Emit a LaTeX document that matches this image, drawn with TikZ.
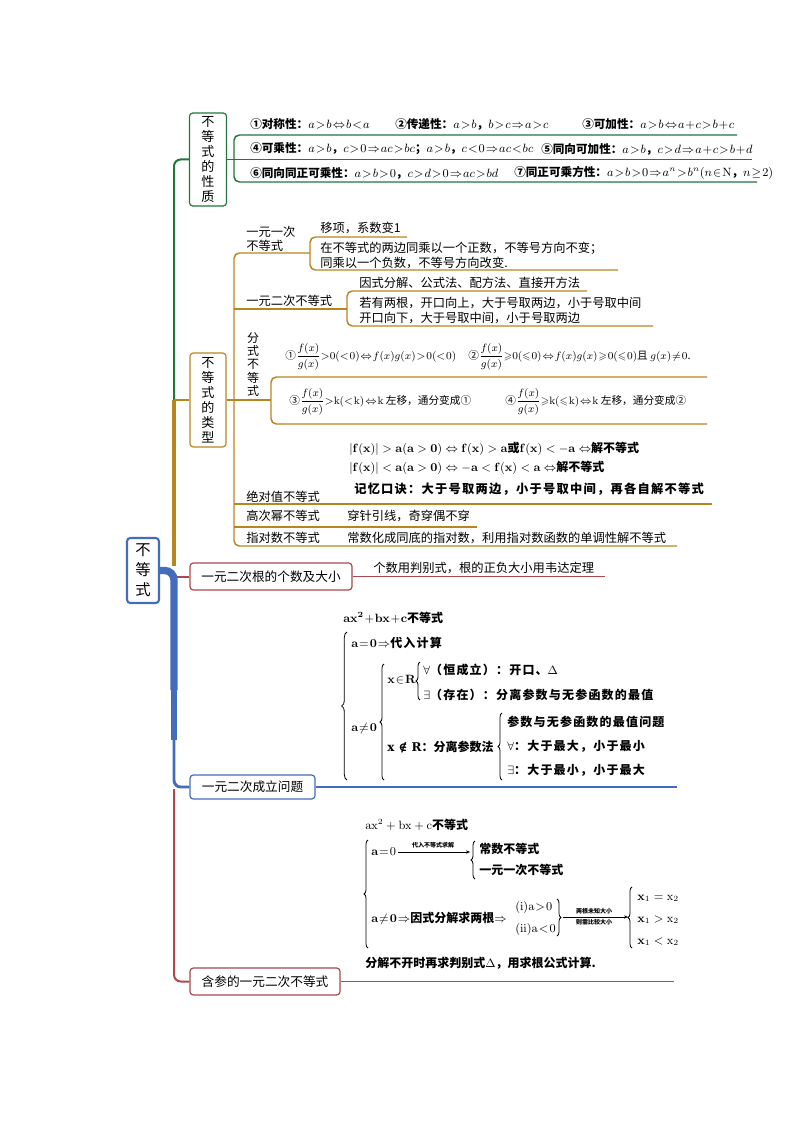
\documentclass[tikz,border=0pt]{standalone}
\usepackage{amsmath,amssymb}
\usepackage[no-math]{fontspec}
\setmainfont{Noto Sans CJK SC}
\newfontfamily\kai[LetterSpace=10]{Noto Sans CJK SC}
\newfontfamily\dvserif{DejaVu Serif}
\usetikzlibrary{arrows.meta,decorations.pathreplacing}
\definecolor{cgreen}{RGB}{30,120,60}
\definecolor{cgold}{RGB}{184,134,30}
\definecolor{cred}{RGB}{172,72,78}
\definecolor{cblue}{RGB}{68,108,188}
\newcommand\tightm{\thickmuskip=1.5mu\medmuskip=1mu}
\begin{document}
\begin{tikzpicture}[x=0.75pt,y=-0.75pt,
 box/.style={draw, rounded corners=2.5pt, fill=white, line width=0.9pt, inner sep=0pt, align=center, text=black},
 tc/.style={inner sep=0pt, anchor=west, font=\fontsize{9.2}{11}\selectfont},
 gt/.style={inner sep=0pt, anchor=west, font=\fontsize{8.7}{11}\selectfont\bfseries\tightm},
 ft/.style={inner sep=0pt, anchor=west, font=\fontsize{8}{10}\selectfont\tightm},
 kt/.style={inner sep=0pt, anchor=west, font=\fontsize{9}{11}\selectfont\kai\bfseries\tightm},
 kn/.style={inner sep=0pt, anchor=west, font=\fontsize{9}{11}\selectfont\bfseries\tightm},
 kw/.style={inner sep=0pt, anchor=west, font=\fontsize{9}{11}\selectfont\bfseries},
 tinyl/.style={inner sep=0pt, font=\fontsize{4.5}{5}\selectfont\bfseries},
 br/.style={decorate, decoration={brace, amplitude=3pt}, line width=0.6pt},
 gl/.style={cgreen, line width=1.1pt, rounded corners=4pt},
 yl/.style={cgold, line width=1.1pt, rounded corners=4pt},
]
\useasboundingbox (0,0) rectangle (794,1123);
\fill[white] (0,0) rectangle (794,1123);

% ---------- main boxes ----------
\node[box, draw=cblue, line width=1.6pt, minimum width=24pt, minimum height=48.75pt, font=\fontsize{11.5}{15}\selectfont] (root) at (143,570.5) {不\\等\\式};
\node[box, draw=cgreen, minimum width=27.75pt, minimum height=69.75pt, font=\fontsize{9.8}{11.3}\selectfont] (b1) at (208,159.5) {不\\等\\式\\的\\性\\质};
\node[box, draw=cgold, minimum width=27pt, minimum height=70.5pt, font=\fontsize{9.8}{11.3}\selectfont] (b2) at (208,400) {不\\等\\式\\的\\类\\型};
\node[box, draw=cred, minimum width=121.5pt, minimum height=20.25pt, font=\fontsize{9.5}{11}\selectfont] (b3) at (271,576.5) {一元二次根的个数及大小};
\node[box, draw=cblue, minimum width=93.75pt, minimum height=18pt, font=\fontsize{9.5}{11}\selectfont] (b4) at (252.5,787) {一元二次成立问题};
\node[box, draw=cred, minimum width=112.5pt, minimum height=20.25pt, font=\fontsize{9.5}{11}\selectfont] (b5) at (265,981.5) {含参的一元二次不等式};

% ---------- trunk ----------
\draw[cgreen, line width=1.5pt, rounded corners=5pt] (174,410) |- (b1.west);
\draw[cgold, line width=3.2pt] (174,566) -- (174,400);
\draw[cgold, line width=1.2pt] (174,400) -- (b2.west);
\draw[cblue, line width=5.5pt, rounded corners=7pt] (root.east) -| (174,690);
\draw[cblue, line width=4pt] (174,680) -- (174,740);
\draw[cblue, line width=2.2pt, rounded corners=5pt] (174,735) |- (b4.west);
\draw[cred, line width=1.5pt] (177,576.5) -- (b3.west);
\draw[cred, line width=1.5pt, rounded corners=5pt] (174,789) |- (b5.west);

% ---------- green: properties ----------
\coordinate (g0) at (234,159.5);
\draw[gl] (b1.east) -- (g0) -- (752,159.5);
\draw[gl] (737,135) -- (234,135) -- (234,182) -- (757,182);
\node[gt] (p1) at (250,124) {①对称性：$a>b\Leftrightarrow b<a$};
\node[gt] (p2) at (395,124) {②传递性：$a>b$，$b>c\Rightarrow a>c$};
\node[gt] (p3) at (582,124) {③可加性：$a>b\Leftrightarrow a+c>b+c$};
\node[gt] (p4) at (250,149) {④可乘性：$a>b$，$c>0\Rightarrow ac>bc$；$a>b$，$c<0\Rightarrow ac<bc$};
\node[gt] (p5) at (541,149) {⑤同向可加性：$a>b$，$c>d\Rightarrow a+c>b+d$};
\node[gt] (p6) at (250,173) {⑥同向同正可乘性：$a>b>0$，$c>d>0\Rightarrow ac>bd$};
\node[gt] (p7) at (514,173) {⑦同正可乘方性：$a>b>0\Rightarrow a^n>b^n(n\in\mathrm{N}$，$n\geq 2)$};

% ---------- gold: types ----------
\coordinate (y0) at (234,400);
\draw[yl] (b2.east) -- (y0) -- (271,400);
\draw[yl] (310,253) -- (234,253) -- (234,546) -- (677,546);
\draw[yl] (234,309) -- (347,309);
\draw[yl] (234,504) -- (712,504);
\draw[yl] (234,527) -- (477,527);
\draw[yl] (407,237) -- (310,237) -- (310,270) -- (618,270);
\draw[yl] (587,291) -- (347,291) -- (347,326) -- (653,326);
\draw[yl] (707,377) -- (271,377) -- (271,424) -- (707,424);

\node[tc, align=left, font=\fontsize{9.2}{10.5}\selectfont] (t1) at (246,239) {一元一次\\不等式};
\node[tc] (t1a) at (320,228) {移项，系数变1};
\node[tc, align=left, font=\fontsize{9.2}{11}\selectfont] (t1b) at (320,255.5) {在不等式的两边同乘以一个正数，不等号方向不变；\\同乘以一个负数，不等号方向改变.};
\node[tc] (t2) at (246,301) {一元二次不等式};
\node[tc] (t2a) at (359,283) {因式分解、公式法、配方法、直接开方法};
\node[tc, align=left] (t2b) at (359,310.5) {若有两根，开口向上，大于号取两边，小于号取中间\\开口向下，大于号取中间，小于号取两边};
\node[tc, anchor=center, align=center, font=\fontsize{9}{10}\selectfont] (t3) at (253,364.5) {分\\式\\不\\等\\式};
\node[ft] (f1) at (285,357) {①$\dfrac{f(x)}{g(x)}{>}0(<0)\Leftrightarrow f(x)g(x)>0(<0)$};
\node[ft] (f2) at (468,357) {②$\dfrac{f(x)}{g(x)}{\geqslant}0(\leqslant 0)\Leftrightarrow f(x)g(x)\geqslant 0(\leqslant 0)$且 $g(x)\neq 0$.};
\node[ft] (f3) at (289,402) {③$\dfrac{f(x)}{g(x)}{>}\mathrm{k}(<\mathrm{k})\Leftrightarrow\mathrm{k}$ 左移，通分变成①};
\node[ft] (f4) at (505,402) {④$\dfrac{f(x)}{g(x)}{\geqslant}\mathrm{k}(\leqslant\mathrm{k})\Leftrightarrow\mathrm{k}$ 左移，通分变成②};
\node[kw] (a1) at (349,449) {$\lvert\mathbf{f(x)}\rvert>\mathbf{a(a}>\mathbf{0)}\Leftrightarrow\mathbf{f(x)}>\mathbf{a}$或$\mathbf{f(x)}<-\mathbf{a}\Leftrightarrow$解不等式};
\node[kw] (a2) at (349,468) {$\lvert\mathbf{f(x)}\rvert<\mathbf{a(a}>\mathbf{0)}\Leftrightarrow-\mathbf{a}<\mathbf{f(x)}<\mathbf{a}\Leftrightarrow$解不等式};
\node[kt, font=\fontsize{9.2}{11}\selectfont\kai\bfseries] (a3) at (354,489) {记忆口诀：大于号取两边，小于号取中间，再各自解不等式};
\node[tc] (t4) at (246,497) {绝对值不等式};
\node[tc] (t5) at (246,516) {高次幂不等式};
\node[tc] (t5a) at (347,516) {穿针引线，奇穿偶不穿};
\node[tc] (t6) at (246,538) {指对数不等式};
\node[tc] (t6a) at (347,538) {常数化成同底的指对数，利用指对数函数的单调性解不等式};

% ---------- red: roots ----------
\coordinate (r0e) at (605,576.5);
\draw[cred, line width=1pt] (b3.east) -- (r0e);
\node[tc] (rt) at (373,568) {个数用判别式，根的正负大小用韦达定理};

% ---------- blue: holds ----------
\coordinate (b4e) at (677,787);
\draw[cblue, line width=1pt] (b4.east) -- (b4e);
\node[kn] (q0) at (343,618) {$\mathbf{ax^2+bx+c}$不等式};
\draw[br, decoration={amplitude=4pt}] (347,780) -- (347,632);
\node[kt] (q1) at (351,643) {$\mathbf{a=0}\Rightarrow$代入计算};
\node[kn] (q2) at (351,728) {$\mathbf{a}\neq\mathbf{0}$};
\draw[br] (384,780) -- (384,664);
\node[kn] (q3) at (387,680) {$\mathbf{x}\in\mathbf{R}$};
\draw[br] (420,700) -- (420,662);
\node[kt] (q4) at (423,670) {$\forall$（恒成立）：开口、$\Delta$};
\node[kt] (q5) at (423,695) {$\exists$（存在）：分离参数与无参函数的最值};
\node[kn] (q6) at (387,747) {{\dvserif\bfseries x ∉ R}：分离参数法};
\draw[br] (502,780) -- (502,713);
\node[kt] (q7) at (507,722) {参数与无参函数的最值问题};
\node[kt] (q8) at (507,746) {$\forall$：大于最大，小于最小};
\node[kt] (q9) at (507,770) {$\exists$：大于最小，小于最大};

% ---------- red: parameter ----------
\coordinate (b5e) at (674,981.5);
\draw[cred, line width=1pt] (b5.east) -- (b5e);
\node[kn, font=\fontsize{9}{11}\selectfont] (s0) at (365,825) {$\mathrm{ax^2+bx+c}$\textbf{不等式}};
\draw[br] (368,948) -- (368,840);
\node[kn] (s1) at (371,852) {$\mathbf{a}=0$};
\coordinate (s1e) at (470,852);
\draw[-{Stealth[length=3pt,width=2.5pt]}, line width=0.4pt] (s1.east) ++(2,0) -- (s1e);
\node[tinyl] (s1l) at (433,845) {代入不等式求解};
\draw[br] (475,879) -- (475,841);
\node[kn] (s2) at (479,849) {常数不等式};
\node[kn] (s3) at (479,870) {一元一次不等式};
\node[kn] (s4) at (371,918) {$\mathbf{a}\neq\mathbf{0}\Rightarrow$因式分解求两根$\Rightarrow$};
\node[tc, font=\fontsize{9}{11}\selectfont\tightm] (s5) at (515,907) {$(\mathrm{i})\mathrm{a}>0$};
\node[tc, font=\fontsize{9}{11}\selectfont\tightm] (s6) at (515,929) {$(\mathrm{ii})\mathrm{a}<0$};
\draw[br] (557,899) -- (557,936);
\coordinate (s7s) at (563,917);
\coordinate (s7e) at (628,917);
\draw[-{Stealth[length=3pt,width=2.5pt]}, line width=0.4pt] (s7s) -- (s7e);
\node[tinyl] (s7a) at (594,911.5) {两根未知大小};
\node[tinyl] (s7b) at (594,922.5) {则需比较大小};
\draw[br] (632,948) -- (632,887);
\node[tc, font=\fontsize{9}{11}\selectfont] (s8) at (637,898) {$\mathbf{x}_1=\mathrm{x}_2$};
\node[tc, font=\fontsize{9}{11}\selectfont] (s9) at (637,920) {$\mathbf{x}_1>\mathrm{x}_2$};
\node[tc, font=\fontsize{9}{11}\selectfont] (s10) at (637,942) {$\mathbf{x}_1<\mathrm{x}_2$};
\node[kn] (s11) at (365,963) {分解不开时再求判别式$\Delta$，用求根公式计算.};
\end{tikzpicture}
\end{document}
